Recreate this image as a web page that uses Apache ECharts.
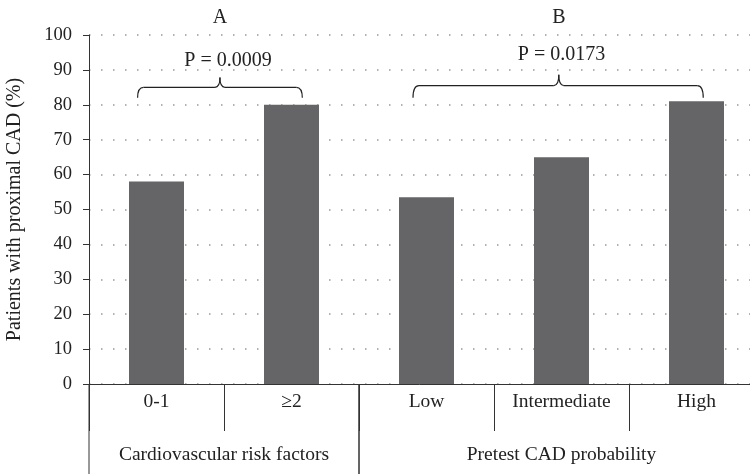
<!DOCTYPE html>
<html>
<head>
<meta charset="utf-8">
<script src="https://cdn.jsdelivr.net/npm/echarts@6/dist/echarts.min.js"></script>
<style>html,body{margin:0;padding:0;background:#fff}#c{width:750px;height:474px}</style>
</head>
<body>
<div id="c"></div>
<script>
const categories = ['0-1', '≥2', 'Low', 'Intermediate', 'High'];
const values = [58, 80, 53.5, 65, 81];
const groupNames = ['Cardiovascular risk factors', 'Pretest CAD probability'];
const groupSizes = [2, 3];
const panelLabels = ['A', 'B'];
const pValues = ['P = 0.0009', 'P = 0.0173'];
const yTicks = [0, 10, 20, 30, 40, 50, 60, 70, 80, 90, 100];
const yAxisTitle = 'Patients with proximal CAD (%)';

const FONT = 'Liberation Serif';
const chart = echarts.init(document.getElementById('c'), null, {renderer: 'canvas'});

chart.setOption({
  animation: false,
  grid: {left: 89, top: 35, width: 675, height: 349, outerBoundsMode: 'none', containLabel: false},
  xAxis: {
    type: 'category',
    data: categories,
    boundaryGap: true,
    axisLine: {show: true, lineStyle: {color: '#333', width: 1}},
    axisTick: {show: true, length: 47, lineStyle: {color: '#333', width: 1}},
    axisLabel: {fontFamily: FONT, fontSize: 19.5, color: '#222', margin: 8, interval: 0}
  },
  yAxis: {
    type: 'value',
    min: yTicks[0], max: yTicks[yTicks.length - 1], interval: 10,
    name: yAxisTitle,
    nameLocation: 'middle',
    nameGap: 64,
    nameTextStyle: {fontFamily: FONT, fontSize: 20, color: '#222'},
    axisLine: {show: true, lineStyle: {color: '#333', width: 1}},
    axisTick: {show: true, length: 6, lineStyle: {color: '#333'}},
    axisLabel: {fontFamily: FONT, fontSize: 18.5, color: '#222', margin: 17},
    splitLine: {show: true, lineStyle: {color: '#999', width: 1.5, type: [1.5, 10.5]}}
  },
  series: [{
    type: 'bar',
    data: values,
    barWidth: 55,
    itemStyle: {color: '#656567'},
    silent: true
  }]
});

function px(idx, val) { return chart.convertToPixel({xAxisIndex: 0, yAxisIndex: 0}, [idx, val]); }
const bandW = px(1, 0)[0] - px(0, 0)[0];
const y0 = px(0, 0)[1];
const gfx = [];
const stroke = {stroke: '#222', lineWidth: 1.2, fill: null};

// group separators and labels
let start = 0;
groupSizes.forEach((n, g) => {
  const left = px(start, 0)[0] - bandW / 2;
  const right = px(start + n - 1, 0)[0] + bandW / 2;
  [left, right].forEach(x => gfx.push({type: 'line', shape: {x1: x, y1: y0, x2: x, y2: 474}, style: {stroke: '#333', lineWidth: 1}}));
  gfx.push({type: 'text', x: (left + right) / 2, y: 455,
    style: {text: groupNames[g], font: '19.5px "' + FONT + '"', fill: '#222', align: 'center', verticalAlign: 'middle'}});
  start += n;
});

const braces = [
  {from: 0, to: 1, lo: -0.14, ro: 0.08, mid: 0.47, yEnd: 82, yLine: 85, yTip: 87.8, ty: 92.7, tx: 0.53},
  {from: 2, to: 4, lo: -0.10, ro: 0.05, mid: 0.98, yEnd: 82, yLine: 85.5, yTip: 88.6, ty: 94.3, tx: 1.0}
];
braces.forEach((b, i) => {
  const c0 = px(b.from, 0)[0];
  const xL = c0 + b.lo * bandW;
  const xR = px(b.to, 0)[0] + b.ro * bandW;
  const xm = c0 + b.mid * bandW;
  const yE = px(0, b.yEnd)[1], yL = px(0, b.yLine)[1], yT = px(0, b.yTip)[1];
  const r = 6;
  gfx.push({type: 'bezierCurve', shape: {x1: xL, y1: yE, x2: xL + r, y2: yL, cpx1: xL, cpy1: yL}, style: stroke});
  gfx.push({type: 'line', shape: {x1: xL + r, y1: yL, x2: xm - 5, y2: yL}, style: stroke});
  gfx.push({type: 'bezierCurve', shape: {x1: xm - 5, y1: yL, x2: xm, y2: yT, cpx1: xm, cpy1: yL}, style: stroke});
  gfx.push({type: 'bezierCurve', shape: {x1: xm, y1: yT, x2: xm + 5, y2: yL, cpx1: xm, cpy1: yL}, style: stroke});
  gfx.push({type: 'line', shape: {x1: xm + 5, y1: yL, x2: xR - r, y2: yL}, style: stroke});
  gfx.push({type: 'bezierCurve', shape: {x1: xR - r, y1: yL, x2: xR, y2: yE, cpx1: xR, cpy1: yL}, style: stroke});
  gfx.push({type: 'text', x: c0 + b.tx * bandW, y: px(0, b.ty)[1],
    style: {text: pValues[i], font: '20px "' + FONT + '"', fill: '#222', align: 'center', verticalAlign: 'middle'}});
  gfx.push({type: 'text', x: xm, y: 18,
    style: {text: panelLabels[i], font: '20px "' + FONT + '"', fill: '#222', align: 'center', verticalAlign: 'middle'}});
});

chart.setOption({graphic: {elements: gfx}});
</script>
</body>
</html>
